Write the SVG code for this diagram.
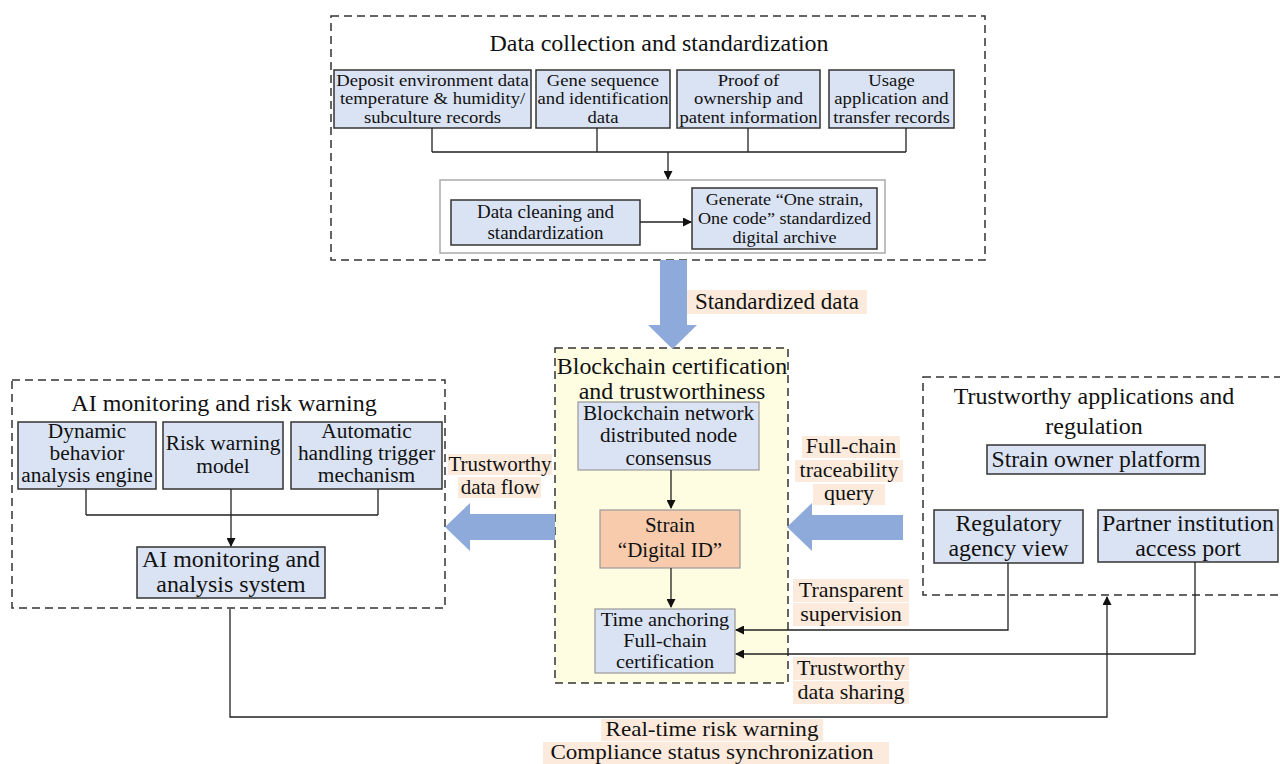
<svg xmlns="http://www.w3.org/2000/svg" width="1280" height="764" viewBox="0 0 1280 764">
<defs>
<marker id="ah" markerWidth="9" markerHeight="9" refX="8" refY="4.5" orient="auto" markerUnits="userSpaceOnUse"><path d="M0,0 L9,4.5 L0,9 z" fill="#111"/></marker>
</defs>
<style>
text{font-family:"Liberation Serif","Times New Roman",serif;fill:#111;text-anchor:middle}
.dash{fill:none;stroke:#333;stroke-width:1.5;stroke-dasharray:8 5}
.box{fill:#dae3f3;stroke:#333;stroke-width:1.5}
.gbox{fill:#dae3f3;stroke:#999;stroke-width:1.2}
.ln{fill:none;stroke:#222;stroke-width:1.3}
.lbl{fill:#fcebdc}
.big{fill:#8eaadb}
.s{font-size:16.5px}
.t19{font-size:19px}.t20{font-size:20px}.t21{font-size:21px}.t22{font-size:22px}.t23{font-size:23px}.t24{font-size:24px}
</style>
<rect width="1280" height="764" fill="#fff"/>

<g id="data-collection">
<rect class="dash" x="331" y="16" width="654" height="244"/>
<text class="t24" x="659" y="51">Data collection and standardization</text>
</g>
<g id="deposit">
<rect class="box" x="334" y="70" width="197" height="58"/>
<text class="s" transform="translate(432.5 0) scale(1.13 1)" x="0" y="86">Deposit environment data</text>
<text class="s" transform="translate(432.5 0) scale(1.13 1)" x="0" y="104.5">temperature &amp; humidity/</text>
<text class="s" transform="translate(432.5 0) scale(1.13 1)" x="0" y="123">subculture records</text>
</g>
<g id="gene">
<rect class="box" x="536" y="70" width="134" height="58"/>
<text class="s" transform="translate(603 0) scale(1.13 1)" x="0" y="86">Gene sequence</text>
<text class="s" transform="translate(603 0) scale(1.13 1)" x="0" y="104.5">and identification</text>
<text class="s" transform="translate(603 0) scale(1.13 1)" x="0" y="123">data</text>
</g>
<g id="proof">
<rect class="box" x="677" y="70" width="143" height="58"/>
<text class="s" transform="translate(748.5 0) scale(1.13 1)" x="0" y="86">Proof of</text>
<text class="s" transform="translate(748.5 0) scale(1.13 1)" x="0" y="104.5">ownership and</text>
<text class="s" transform="translate(748.5 0) scale(1.13 1)" x="0" y="123">patent information</text>
</g>
<g id="usage">
<rect class="box" x="829" y="70" width="125" height="58"/>
<text class="s" transform="translate(891.5 0) scale(1.13 1)" x="0" y="86">Usage</text>
<text class="s" transform="translate(891.5 0) scale(1.13 1)" x="0" y="104.5">application and</text>
<text class="s" transform="translate(891.5 0) scale(1.13 1)" x="0" y="123">transfer records</text>
</g>
<g id="processing">
<rect x="440" y="180" width="445" height="73" fill="#fff" stroke="#aaa" stroke-width="1.5"/>
</g>
<g id="cleaning">
<rect class="box" x="451" y="200" width="189" height="45"/>
<text class="t19" x="545.5" y="218">Data cleaning and</text>
<text class="t19" x="545.5" y="239">standardization</text>
</g>
<g id="generate">
<rect class="box" x="692" y="188" width="185" height="61"/>
<text class="s" transform="translate(784.5 0) scale(1.1 1)" x="0" y="205">Generate “One strain,</text>
<text class="s" transform="translate(784.5 0) scale(1.1 1)" x="0" y="224">One code” standardized</text>
<text class="s" transform="translate(784.5 0) scale(1.1 1)" x="0" y="243">digital archive</text>
</g>

<g id="ai-monitoring">
<rect class="dash" x="12" y="380" width="433" height="228"/>
<text class="t24" x="224" y="411">AI monitoring and risk warning</text>
</g>
<g id="dynamic">
<rect class="box" x="18" y="422" width="138" height="67"/>
<text class="t20" transform="translate(87 0) scale(1.07 1)" x="0" y="438">Dynamic</text>
<text class="t20" transform="translate(87 0) scale(1.07 1)" x="0" y="460">behavior</text>
<text class="t20" transform="translate(87 0) scale(1.07 1)" x="0" y="482.5">analysis engine</text>
</g>
<g id="risk-model">
<rect class="box" x="163" y="422" width="120" height="67"/>
<text class="t20" transform="translate(223 0) scale(1.07 1)" x="0" y="450">Risk warning</text>
<text class="t20" transform="translate(223 0) scale(1.07 1)" x="0" y="473">model</text>
</g>
<g id="automatic">
<rect class="box" x="291" y="422" width="151" height="67"/>
<text class="t20" transform="translate(366.5 0) scale(1.07 1)" x="0" y="438">Automatic</text>
<text class="t20" transform="translate(366.5 0) scale(1.07 1)" x="0" y="460">handling trigger</text>
<text class="t20" transform="translate(366.5 0) scale(1.07 1)" x="0" y="482.5">mechanism</text>
</g>
<g id="ai-system">
<rect class="box" x="137" y="547" width="188" height="51"/>
<text class="t23" transform="translate(231 0) scale(1.04 1)" x="0" y="567">AI monitoring and</text>
<text class="t23" transform="translate(231 0) scale(1.04 1)" x="0" y="592">analysis system</text>
</g>

<g id="blockchain">
<rect x="555" y="348" width="233" height="335" fill="#fefde2" stroke="#333" stroke-width="1.5" stroke-dasharray="8 5"/>
<text class="t23" transform="translate(672 0) scale(1.04 1)" x="0" y="374">Blockchain certification</text>
<text class="t23" transform="translate(672 0) scale(1.04 1)" x="0" y="399">and trustworthiness</text>
</g>
<g id="network">
<rect class="gbox" x="578" y="402" width="181" height="68"/>
<text class="t20" transform="translate(668.5 0) scale(1.06 1)" x="0" y="420">Blockchain network</text>
<text class="t20" transform="translate(668.5 0) scale(1.06 1)" x="0" y="442.5">distributed node</text>
<text class="t20" transform="translate(668.5 0) scale(1.06 1)" x="0" y="465">consensus</text>
</g>
<g id="digital-id">
<rect x="600" y="510" width="140" height="58" fill="#f8cbad" stroke="#999" stroke-width="1.2"/>
<text class="t21" x="670" y="532">Strain</text>
<text class="t21" x="670" y="557">“Digital ID”</text>
</g>
<g id="time-anchoring">
<rect class="gbox" x="595" y="609" width="140" height="64"/>
<text class="t19" transform="translate(665 0) scale(1.07 1)" x="0" y="626">Time anchoring</text>
<text class="t19" transform="translate(665 0) scale(1.07 1)" x="0" y="647">Full-chain</text>
<text class="t19" transform="translate(665 0) scale(1.07 1)" x="0" y="668">certification</text>
</g>

<g id="trust-apps">
<rect class="dash" x="923" y="377" width="400" height="218"/>
<text class="t24" x="1094" y="404">Trustworthy applications and</text>
<text class="t24" x="1094" y="434">regulation</text>
</g>
<g id="owner-platform">
<rect class="box" x="987" y="445" width="218" height="29"/>
<text class="t23" transform="translate(1096 0) scale(1.03 1)" x="0" y="467">Strain owner platform</text>
</g>
<g id="regulatory">
<rect class="box" x="934" y="510" width="149" height="53"/>
<text class="t23" transform="translate(1008.5 0) scale(1.04 1)" x="0" y="531">Regulatory</text>
<text class="t23" transform="translate(1008.5 0) scale(1.04 1)" x="0" y="556">agency view</text>
</g>
<g id="partner">
<rect class="box" x="1098" y="510" width="180" height="52"/>
<text class="t23" transform="translate(1188 0) scale(1.04 1)" x="0" y="531">Partner institution</text>
<text class="t23" transform="translate(1188 0) scale(1.04 1)" x="0" y="556">access port</text>
</g>

<g id="connectors">
<path class="ln" d="M432,128 V152 M597,128 V152 M748,128 V152 M906,128 V152 M432,152 H906"/>
<path class="ln" d="M668,152 V179" marker-end="url(#ah)"/>
<path class="ln" d="M640,222 H691" marker-end="url(#ah)"/>
<polygon class="big" points="660,260 687,260 687,325 697,325 672.5,349 648,325 660,325"/>
<rect class="lbl" x="687" y="290" width="180" height="24"/>
<text class="t23" x="777" y="309">Standardized data</text>

<path class="ln" d="M86,489 V515 M378,489 V515 M86,515 H378"/>
<path class="ln" d="M231,489 V546" marker-end="url(#ah)"/>

<path class="ln" stroke="#555" d="M671,470 V508" marker-end="url(#ah)"/>
<path class="ln" d="M671,568 V607" marker-end="url(#ah)"/>

<polygon class="big" points="555,514 470,514 470,503 445,527 470,551 470,540 555,540"/>
<rect class="lbl" x="448" y="454" width="104" height="21"/>
<rect class="lbl" x="458" y="477" width="83" height="21"/>
<text class="t21" x="500" y="471">Trustworthy</text>
<text class="t21" x="500" y="494">data flow</text>

<polygon class="big" points="903,515 812,515 812,503 787,527 812,551 812,540 903,540"/>
<rect class="lbl" x="802" y="436" width="98" height="22"/>
<rect class="lbl" x="795" y="460" width="108" height="22"/>
<rect class="lbl" x="813" y="484" width="72" height="21"/>
<text class="t22" x="851" y="453">Full-chain</text>
<text class="t22" x="849" y="477">traceability</text>
<text class="t22" x="849" y="500">query</text>

<path class="ln" stroke="#444" d="M1008,563 V630 H736" marker-end="url(#ah)"/>
<path class="ln" stroke="#444" d="M1195,562 V654 H736" marker-end="url(#ah)"/>
<rect class="lbl" x="793" y="579" width="116" height="23"/>
<rect class="lbl" x="793" y="603" width="116" height="23"/>
<text class="t22" x="851" y="597">Transparent</text>
<text class="t22" x="851" y="621">supervision</text>
<rect class="lbl" x="793" y="657" width="116" height="23"/>
<rect class="lbl" x="793" y="681" width="116" height="23"/>
<text class="t22" x="851" y="675">Trustworthy</text>
<text class="t22" x="851" y="699">data sharing</text>

<path class="ln" d="M230,609 V717 H1107 V597" marker-end="url(#ah)"/>
<rect class="lbl" x="601" y="719" width="222" height="22"/>
<rect class="lbl" x="543" y="742" width="346" height="22"/>
<text class="t22" transform="translate(712 0) scale(1.05 1)" x="0" y="736">Real-time risk warning</text>
<text class="t22" transform="translate(712 0) scale(1.05 1)" x="0" y="759">Compliance status synchronization</text>
</g>
</svg>
